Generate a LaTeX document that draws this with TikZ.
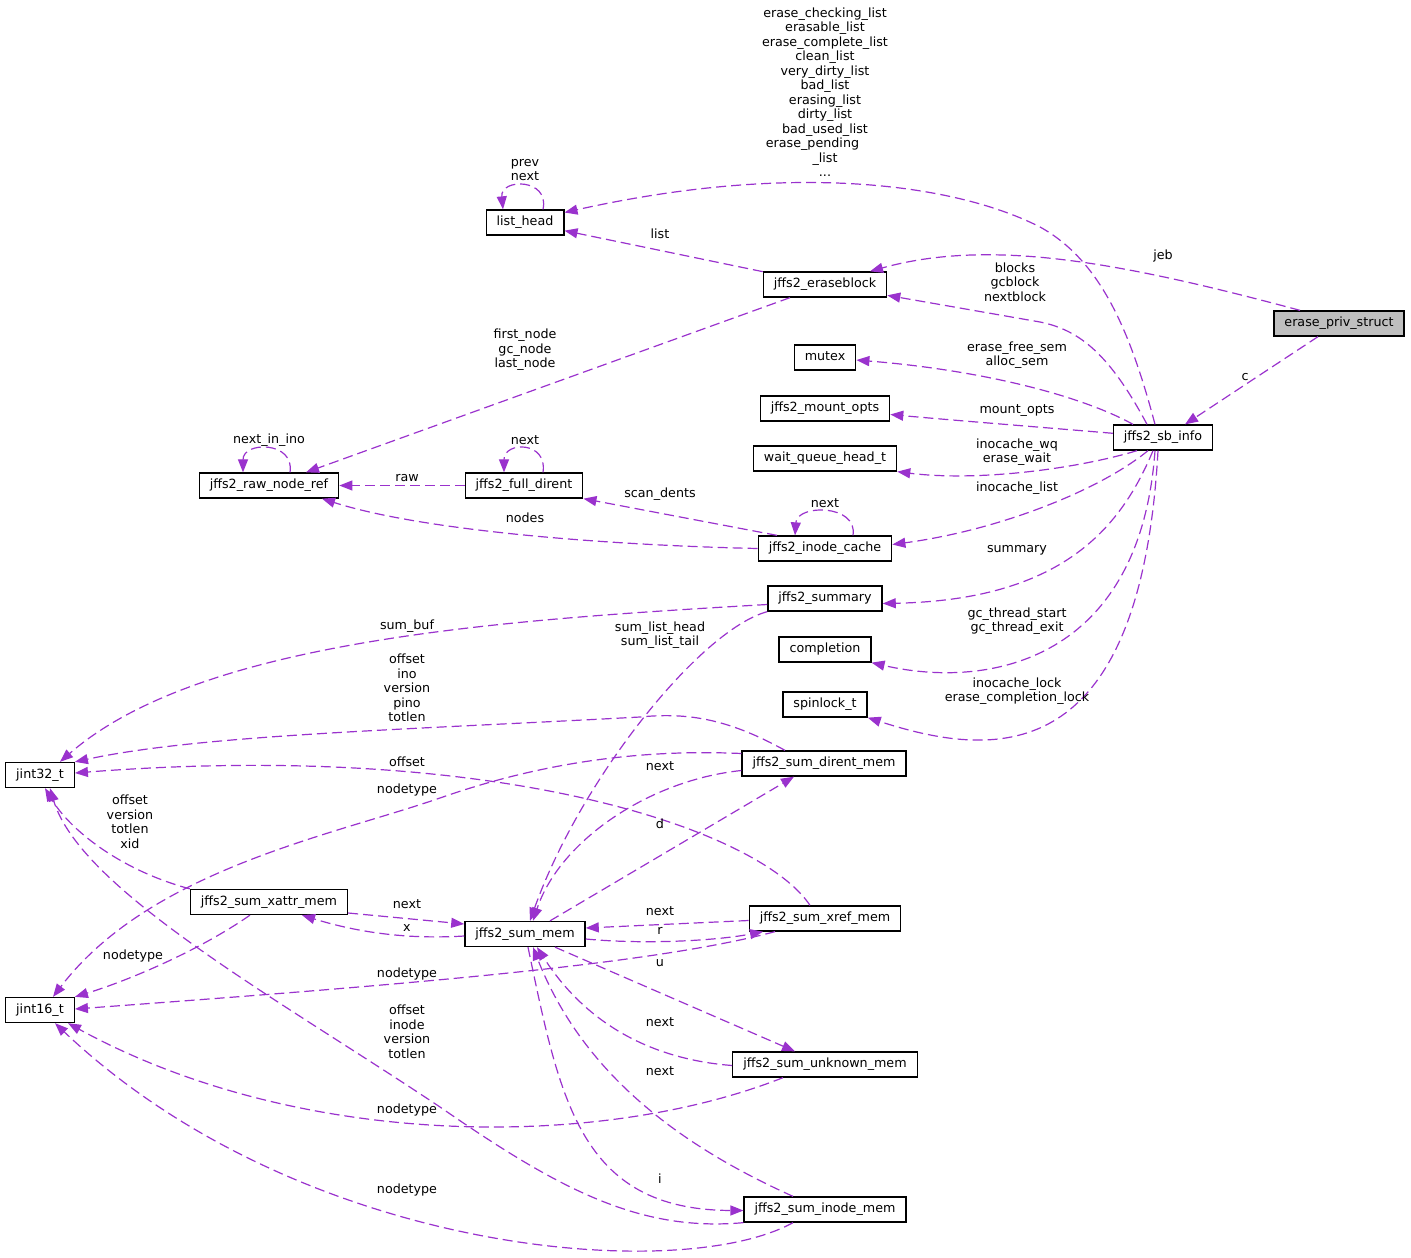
\documentclass[tikz,border=0pt]{standalone}
\usepackage{fontspec}
\setmainfont{DejaVu Sans}
\usetikzlibrary{
    arrows.meta,
    positioning
}
\definecolor{relcol}{HTML}{9A32CD}
\definecolor{rootgray}{HTML}{BFBFBF}
\tikzset{
    cls/.style={draw=black, line width=1.3pt, fill=white, minimum height=25pt,
        inner xsep=10.5pt, inner ysep=0pt, text height=9.5pt, text depth=3pt,
        font=\fontsize{12.7}{14.5}\selectfont},
    rel/.style={draw=relcol, line width=1.2pt, dash pattern=on 10pt off 5pt,
        -{Triangle[length=13pt,width=10pt]}},
    lbl/.style={inner sep=0pt, align=center, font=\fontsize{12.7}{14.5}\selectfont}
}

\begin{document}
\begin{tikzpicture}[x=1pt, y=-1pt]
    \useasboundingbox (0,0) rectangle (1411,1258);

    % classes
    \node[cls, fill=rootgray] (eps) at (1339, 323.5) {erase\_priv\_struct};
    \node[cls] (lh) at (525, 222.5) {list\_head};
    \node[cls] (eb) at (825, 284.5) {jffs2\_eraseblock};
    \node[cls] (mtx) at (825, 357.5) {mutex};
    \node[cls] (mo) at (825, 408.5) {jffs2\_mount\_opts};
    \node[cls] (wq) at (825, 458.5) {wait\_queue\_head\_t};
    \node[cls] (sb) at (1163, 437.5) {jffs2\_sb\_info};
    \node[cls] (rnr) at (269, 485.5) {jffs2\_raw\_node\_ref};
    \node[cls] (fd) at (524, 485.5) {jffs2\_full\_dirent};
    \node[cls] (ic) at (825, 548.5) {jffs2\_inode\_cache};
    \node[cls] (smy) at (825, 598.5) {jffs2\_summary};
    \node[cls] (cpl) at (825, 649.5) {completion};
    \node[cls] (spl) at (825, 704.5) {spinlock\_t};
    \node[cls] (j32) at (40, 775) {jint32\_t};
    \node[cls] (sdm) at (824, 763.5) {jffs2\_sum\_dirent\_mem};
    \node[cls] (sxa) at (269, 902) {jffs2\_sum\_xattr\_mem};
    \node[cls] (smem) at (525, 934) {jffs2\_sum\_mem};
    \node[cls] (sxr) at (825, 918.5) {jffs2\_sum\_xref\_mem};
    \node[cls] (j16) at (40, 1010) {jint16\_t};
    \node[cls] (sunk) at (825, 1064.5) {jffs2\_sum\_unknown\_mem};
    \node[cls] (sim) at (825, 1209.5) {jffs2\_sum\_inode\_mem};

    % members of erase_priv_struct
    \draw[rel] ([xshift=-21]eps.south) -- ([xshift=22]sb.north);
    \draw[rel] ([xshift=-39]eps.north) .. controls (1120,262) and (990,238) .. ([xshift=45]eb.north);

    % members of jffs2_sb_info
    \draw[rel] ([xshift=-8]sb.north) .. controls (1130,330) and (1100,260) .. (1040,227)
        .. controls (960,186) and (800,160) .. ([yshift=10]lh.east);
    \draw[rel] ([xshift=-16]sb.north) .. controls (1110,355) and (1080,330) .. (1040,322) -- (eb);
    \draw[rel] ([xshift=-30]sb.north) .. controls (1080,395) and (980,370) .. (mtx);
    \draw[rel] (sb) .. controls (1050,428) and (950,420) .. (mo);
    \draw[rel] ([xshift=-26]sb.south) .. controls (1080,468) and (980,482) .. (wq.south east);
    \draw[rel] ([xshift=-15]sb.south) .. controls (1100,490) and (1000,530) .. ([yshift=4]ic.east);
    \draw[rel] ([xshift=-10]sb.south) .. controls (1120,530) and (1060,600) .. ([yshift=-5]smy.east);
    \draw[rel] ([xshift=-8]sb.south) .. controls (1140,660) and (990,690) .. (cpl.south east);
    \draw[rel] ([xshift=-5]sb.south) .. controls (1140,775) and (990,757) .. (spl.south east);

    % lists and nodes
    \draw[rel] (eb) -- (lh);
    \draw[rel] ([xshift=-35]eb.south) -- ([xshift=37]rnr.north);
    \draw[rel] ([xshift=18]lh.north) .. controls (550,178) and (500,178) .. ([xshift=-22]lh.north);
    \draw[rel] ([xshift=21]rnr.north) .. controls (295,441) and (243,441) .. ([xshift=-26]rnr.north);
    \draw[rel] (fd) -- (rnr);
    \draw[rel] ([xshift=19]fd.north) .. controls (548,441) and (504,441) .. ([xshift=-20]fd.north);
    \draw[rel] ([xshift=-48]ic.north) -- (fd.south east);
    \draw[rel] (ic.west) .. controls (600,545) and (420,530) .. ([xshift=53]rnr.south);
    \draw[rel] ([xshift=28]ic.north) .. controls (858,504) and (797,504) .. ([xshift=-30]ic.north);

    % summary
    \draw[rel] ([yshift=-6]smy.west) .. controls (500,620) and (200,640) .. ([xshift=20]j32.north);
    \draw[rel] (smy.south west) .. controls (700,630) and (580,780) .. ([xshift=5]smem.north);

    % jffs2_sum_dirent_mem
    \draw[rel] ([xshift=-39]sdm.north) .. controls (730,720) and (690,712) .. (640,717)
        .. controls (400,730) and (200,735) .. (j32.north east);
    \draw[rel] ([yshift=10]sdm.west) .. controls (620,748) and (520,770) .. (440,798)
        .. controls (330,836) and (150,870) .. ([xshift=13]j16.north);
    \draw[rel] ([yshift=-7]sdm.west) .. controls (650,780) and (560,840) .. ([xshift=8]smem.north);
    \draw[rel] ([xshift=25]smem.north) -- ([xshift=-30]sdm.south);

    % jffs2_sum_xattr_mem and jffs2_sum_xref_mem
    \draw[rel] ([xshift=-15]sxr.north) .. controls (760,830) and (500,740) .. ([yshift=2]j32.east);
    \draw[rel] (sxa.north west) .. controls (120,870) and (70,830) .. ([xshift=5]j32.south);
    \draw[rel] ([xshift=-19]sxa.south) .. controls (200,950) and (130,980) .. (j16.north east);
    \draw[rel] ([yshift=-11]sxa.east) -- ([yshift=10]smem.west);
    \draw[rel] ([yshift=-2]smem.west) .. controls (400,940) and (350,930) .. ([xshift=33]sxa.south);
    \draw[rel] ([yshift=-2]sxr.west) -- ([yshift=6]smem.east);
    \draw[rel] ([yshift=-5]smem.east) .. controls (650,945) and (720,940) .. ([xshift=-62]sxr.south);
    \draw[rel] ([xshift=-50]sxr.south) .. controls (650,965) and (400,985) .. ([yshift=1]j16.east);

    % jffs2_sum_unknown_mem and jffs2_sum_inode_mem
    \draw[rel] ([xshift=30]smem.south) -- ([xshift=-30]sunk.north);
    \draw[rel] ([yshift=-1]sunk.west) .. controls (660,1060) and (590,1030) .. ([xshift=12]smem.south);
    \draw[rel] ([xshift=-42]sunk.south) .. controls (600,1150) and (300,1150) .. ([xshift=28]j16.south);
    \draw[rel] (sim.south west) .. controls (640,1232) and (560,1190) .. (440,1107)
        .. controls (280,1000) and (80,890) .. ([xshift=10]j32.south);
    \draw[rel] ([xshift=-32]sim.north) .. controls (690,1150) and (585,1080) .. ([xshift=8]smem.south);
    \draw[rel] ([xshift=3]smem.south) .. controls (560,1100) and (580,1210) .. ([yshift=-1]sim.west);
    \draw[rel] ([xshift=-32]sim.south) .. controls (680,1285) and (300,1255) .. ([xshift=15]j16.south);

    % labels
    \node[lbl] (l-c) at (1245, 377) {c};
    \node[lbl] (l-jeb) at (1163, 256) {jeb};
    \node[lbl] (l-lists) at (825, 92) {erase\_checking\_list\\erasable\_list\\erase\_complete\_list\\clean\_list\\very\_dirty\_list\\bad\_list\\erasing\_list\\dirty\_list\\bad\_used\_list\\erase\_pending\phantom{\_list}\\\_list\\...};
    \node[lbl] (l-blocks) at (1015, 282) {blocks\\gcblock\\nextblock};
    \node[lbl] (l-sem) at (1017, 355) {erase\_free\_sem\\alloc\_sem};
    \node[lbl] (l-opts) at (1017, 411) {mount\_opts};
    \node[lbl] (l-wait) at (1017, 452) {inocache\_wq\\erase\_wait};
    \node[lbl] (l-icl) at (1017, 488) {inocache\_list};
    \node[lbl] (l-sum) at (1017, 550) {summary};
    \node[lbl] (l-gc) at (1017, 621) {gc\_thread\_start\\gc\_thread\_exit};
    \node[lbl] (l-lock) at (1017, 691) {inocache\_lock\\erase\_completion\_lock};
    \node[lbl] (l-list) at (660, 234) {list};
    \node[lbl] (l-first) at (525, 350) {first\_node\\gc\_node\\last\_node};
    \node[lbl] (l-prev) at (525, 170) {prev\\next};
    \node[lbl] (l-nino) at (269, 440) {next\_in\_ino};
    \node[lbl] (l-raw) at (407, 478) {raw};
    \node[lbl] (l-fdnext) at (525, 440) {next};
    \node[lbl] (l-scan) at (660, 494) {scan\_dents};
    \node[lbl] (l-nodes) at (525, 518) {nodes};
    \node[lbl] (l-icnext) at (825, 503) {next};
    \node[lbl] (l-buf) at (407, 626) {sum\_buf};
    \node[lbl] (l-shead) at (660, 635) {sum\_list\_head\\sum\_list\_tail};
    \node[lbl] (l-dfields) at (407, 688) {offset\\ino\\version\\pino\\totlen};
    \node[lbl] (l-roff) at (407, 762) {offset};
    \node[lbl] (l-dtype) at (407, 790) {nodetype};
    \node[lbl] (l-dnext) at (660, 766) {next};
    \node[lbl] (l-d) at (660, 824) {d};
    \node[lbl] (l-xfields) at (130, 822) {offset\\version\\totlen\\xid};
    \node[lbl] (l-xnext) at (407, 904) {next};
    \node[lbl] (l-x) at (407, 928) {x};
    \node[lbl] (l-xtype) at (133, 956) {nodetype};
    \node[lbl] (l-rnext) at (660, 911) {next};
    \node[lbl] (l-r) at (660, 931) {r};
    \node[lbl] (l-rtype) at (407, 974) {nodetype};
    \node[lbl] (l-u) at (660, 963) {u};
    \node[lbl] (l-ifields) at (407, 1032) {offset\\inode\\version\\totlen};
    \node[lbl] (l-unext) at (660, 1022) {next};
    \node[lbl] (l-inext) at (660, 1071) {next};
    \node[lbl] (l-utype) at (407, 1110) {nodetype};
    \node[lbl] (l-i) at (660, 1179) {i};
    \node[lbl] (l-itype) at (407, 1190) {nodetype};
\end{tikzpicture}
\end{document}
